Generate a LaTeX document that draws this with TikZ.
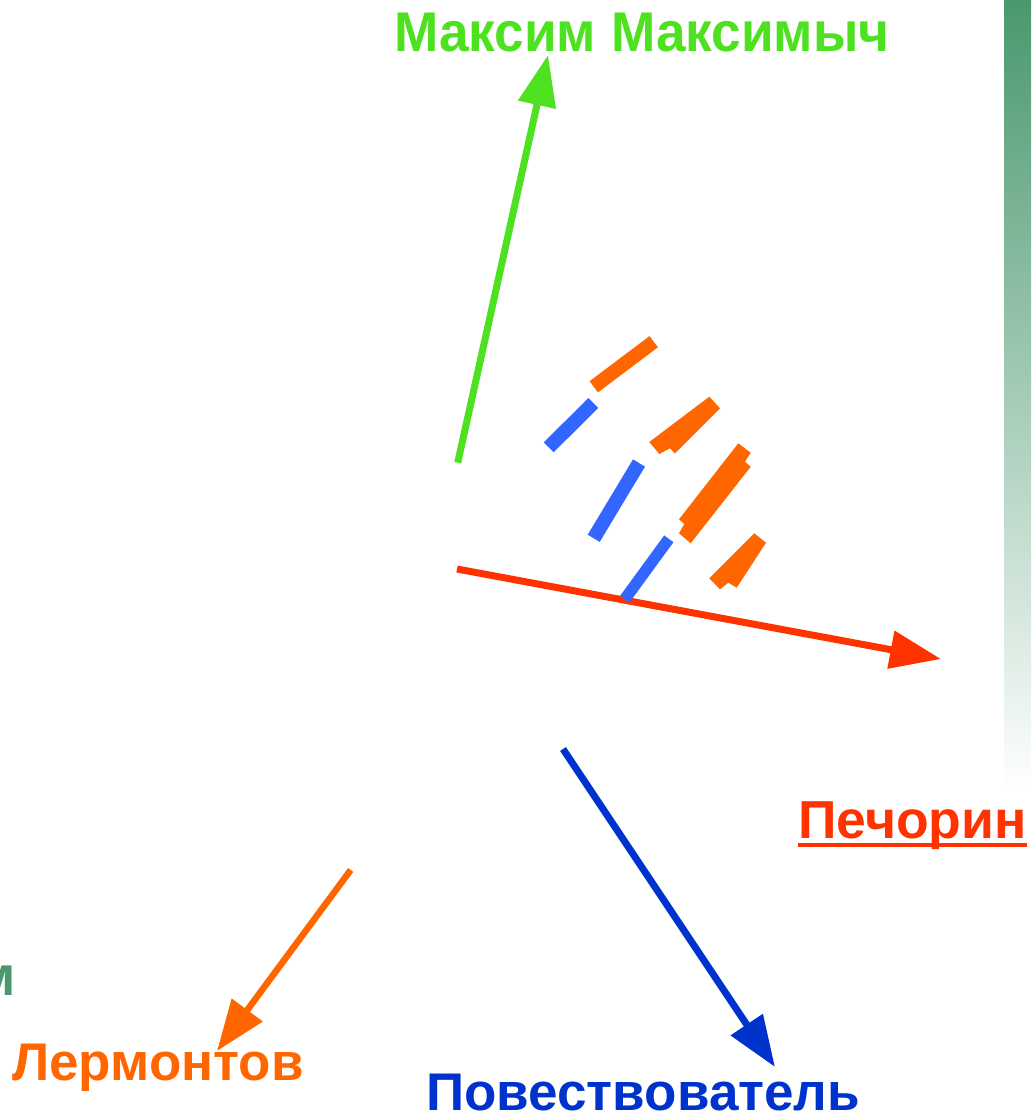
\documentclass[tikz,border=0pt]{standalone}
\usepackage{fontspec}
\setmainfont{Liberation Sans}
\newfontfamily\narrowsans[FakeStretch=0.95]{Liberation Sans}
\usetikzlibrary{arrows.meta}
\definecolor{cgreen}{RGB}{77,225,32}
\definecolor{corange}{RGB}{255,102,0}
\definecolor{cred}{RGB}{255,51,0}
\definecolor{cblue}{RGB}{0,51,204}
\definecolor{cbar}{RGB}{51,102,255}
\definecolor{cdark}{RGB}{74,152,110}
\tikzset{
  arr/.style={line width=7pt, -{Triangle[length=51pt,width=37pt]}},
  lbl/.style={inner sep=0pt, font=\fontsize{53pt}{60pt}\selectfont\bfseries},
  bar/.style={line width=13pt, line cap=butt},
}
\begin{document}
\begin{tikzpicture}[x=1pt,y=-1pt]
\useasboundingbox (0,0) rectangle (1031,1113);
% gradient strip
\shade[top color=cdark, bottom color=white] (1004,0) rectangle (1031,792);
% labels
\node[lbl, anchor=base west, text=cgreen, font=\narrowsans\fontsize{56pt}{60pt}\selectfont\bfseries] (mm) at (394,52) {Максим Максимыч};
\node[lbl, anchor=base west, text=cred, font=\fontsize{53.5pt}{60pt}\selectfont\bfseries] (pech) at (798,838) {Печорин};
\draw[cred, line width=4pt] ([yshift=-7pt]pech.base west) -- ([yshift=-7pt]pech.base east);
\node[lbl, anchor=base west, text=corange] (lerm) at (12,1080) {Лермонтов};
\node[lbl, anchor=base west, text=cblue] (pov) at (426,1110) {Повествователь};
\node[lbl, anchor=base east, text=cdark, font=\fontsize{56pt}{60pt}\selectfont\bfseries] (frag) at (16,995) {м};
% arrow ends
\coordinate (g0) at (457.7,462.7);
\coordinate (g1) at (548,55);
\coordinate (r0) at (457,569);
\coordinate (r1) at (941,659);
\coordinate (o0) at (350.7,870);
\coordinate (o1) at (217,1051);
\coordinate (b0) at (563,749);
\coordinate (b1) at (775,1067);
\draw[arr, cgreen] (g0) -- (g1);
\draw[arr, cred] (r0) -- (r1);
\draw[arr, corange, line width=6.5pt] (o0) -- (o1);
\draw[arr, cblue] (b0) -- (b1);
% small bars
\draw[bar, corange, line width=14pt] (593.8,386.8) -- (653.7,341.7);
\draw[bar, cbar, line width=14pt] (548.7,447.3) -- (593.3,403);
\draw[bar, cbar, line width=14pt] (639,463) -- (593.7,538.3);
\draw[bar, cbar, line width=11.5pt] (668.8,538.8) -- (624.7,599.3);
\fill[corange] (649.3,442) -- (709.3,396.7) -- (720,408.3) -- (675,453.3) -- (670,448.3) -- (659.3,454) -- cycle;
\fill[corange] (738.3,443.3) -- (750.7,452.7) -- (745,461.7) -- (750.7,466.7) -- (690.7,543.3) -- (679,533.3) -- (684.3,524) -- (679,519.3) -- cycle;
\fill[corange] (709.3,578.3) -- (754.3,533.3) -- (766,542.7) -- (736.7,587.7) -- (728.3,582.7) -- (720,589.3) -- cycle;
\end{tikzpicture}
\end{document}
